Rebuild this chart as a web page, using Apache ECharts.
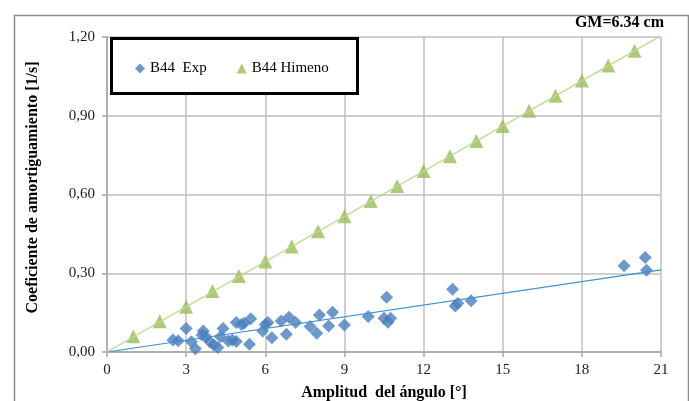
<!DOCTYPE html>
<html>
<head>
<meta charset="utf-8">
<script src="https://cdn.jsdelivr.net/npm/echarts@6/dist/echarts.min.js"></script>
<style>html,body{margin:0;padding:0;background:#fff}#c{width:689px;height:401px}</style>
</head>
<body>
<div id="c"></div>
<script>
// ---- data ----
const expX = [2.5,2.7,3.0,3.2,3.35,3.6,3.65,3.75,3.9,4.05,4.2,4.3,4.4,4.6,4.75,4.9,4.9,5.1,5.2,5.45,5.4,5.9,6.0,6.1,6.25,6.6,6.9,6.8,7.15,7.7,7.95,8.05,8.4,8.55,9.0,9.9,10.5,10.6,10.65,10.75,13.1,13.2,13.3,13.8,19.6,20.4,20.45];
const expY = [0.046,0.043,0.090,0.039,0.012,0.065,0.080,0.058,0.039,0.027,0.017,0.058,0.090,0.042,0.046,0.112,0.040,0.105,0.110,0.127,0.030,0.080,0.105,0.112,0.054,0.118,0.132,0.068,0.112,0.097,0.071,0.141,0.099,0.151,0.103,0.135,0.129,0.209,0.113,0.129,0.239,0.175,0.186,0.195,0.329,0.360,0.311];
const himX = [1,2,3,4,5,6,7,8,9,10,11,12,13,14,15,16,17,18,19,20];
const himY = [0.060,0.117,0.172,0.232,0.290,0.345,0.402,0.460,0.517,0.575,0.632,0.690,0.746,0.804,0.861,0.919,0.976,1.034,1.091,1.148];
const trendExpX = [0, 21];
const trendExpY = [0, 0.313];
const trendHimX = [0, 21];
const trendHimY = [0, 1.205];
const xTicks = {min: 0, max: 21, step: 3};
const yTicks = {min: 0, max: 1.2, step: 0.3};
const seriesNames = ['B44  Exp', 'B44 Himeno'];
const annotation = 'GM=6.34 cm';
const xName = 'Amplitud  del ángulo [°]';
const yName = 'Coeficiente de amortiguamiento [1/s]';

const zip = (a, b) => a.map((v, i) => [v, b[i]]);
const font = 'Liberation Serif';

const chart = echarts.init(document.getElementById('c'), null, {renderer: 'canvas'});
chart.setOption({
  animation: false,
  backgroundColor: '#fff',
  textStyle: {fontFamily: font},
  grid: {left: 107, right: 28, top: 37, bottom: 49, containLabel: false, outerBoundsMode: 'none'},
  xAxis: {
    type: 'value', min: xTicks.min, max: xTicks.max, interval: xTicks.step,
    name: xName, nameLocation: 'middle', nameGap: 33,
    nameTextStyle: {fontFamily: font, fontWeight: 'bold', fontSize: 16, color: '#000'},
    axisLine: {show: true, lineStyle: {color: '#a6a6a6', width: 1.5}},
    axisTick: {show: true, length: 5, lineStyle: {color: '#a6a6a6', width: 1.5}},
    axisLabel: {fontFamily: font, fontSize: 15, color: '#222', margin: 11},
    splitLine: {show: true, lineStyle: {color: '#bfbfbf', width: 1.5}}
  },
  yAxis: {
    type: 'value', min: yTicks.min, max: yTicks.max, interval: yTicks.step,
    name: yName, nameLocation: 'middle', nameGap: 66, nameRotate: 90,
    nameTextStyle: {fontFamily: font, fontWeight: 'bold', fontSize: 16, color: '#000', padding: [0, 0, 0, 14]},
    axisLine: {show: true, lineStyle: {color: '#a6a6a6', width: 1.5}},
    axisTick: {show: true, length: 5, lineStyle: {color: '#a6a6a6', width: 1.5}},
    axisLabel: {fontFamily: font, fontSize: 15, color: '#222', margin: 12,
      formatter: v => v.toFixed(2).replace('.', ',')},
    splitLine: {show: true, lineStyle: {color: '#bfbfbf', width: 1.5}}
  },
  legend: {
    left: 130, top: 56, z: 20,
    itemGap: 30, itemWidth: 10, itemHeight: 10,
    textStyle: {fontFamily: font, fontSize: 15, color: '#000'},
    data: [
      {name: seriesNames[0], icon: 'diamond', itemStyle: {color: '#4a7ebb'}},
      {name: seriesNames[1], icon: 'triangle', itemStyle: {color: '#9bbb59'}}
    ]
  },
  graphic: [
    {type: 'rect', left: 12, top: 13, z: 0, silent: true,
      shape: {width: 674, height: 400}, style: {fill: 'none', stroke: '#8c8c8c', lineWidth: 1.5}},
    {type: 'rect', left: 110, top: 37, z: 15, silent: true,
      shape: {width: 246, height: 55}, style: {fill: '#fff', stroke: '#000', lineWidth: 3}},
    {type: 'text', right: 25, top: 15, z: 15,
      style: {text: annotation, font: 'bold 16px "Liberation Serif"', fill: '#000'}}
  ],
  series: [
    {name: seriesNames[0], type: 'scatter', symbol: 'diamond', symbolSize: 13,
      itemStyle: {color: '#4a7ebb'}, data: zip(expX, expY), z: 3},
    {name: seriesNames[1], type: 'scatter', symbol: 'triangle', symbolSize: 14,
      itemStyle: {color: '#9bbb59'}, data: zip(himX, himY), z: 3},
    {type: 'line', data: zip(trendExpX, trendExpY), symbol: 'none', silent: true,
      lineStyle: {color: '#3c8fd6', width: 1.2}, z: 4},
    {type: 'line', data: zip(trendHimX, trendHimY), symbol: 'none', silent: true,
      lineStyle: {color: '#b6dc8e', width: 1.4}, z: 4}
  ]
});
</script>
</body>
</html>
